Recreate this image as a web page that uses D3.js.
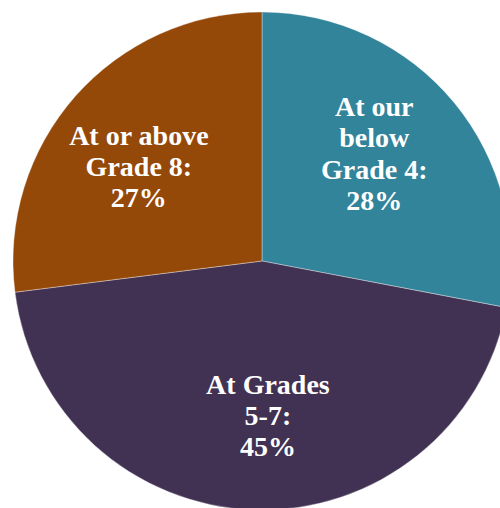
<!DOCTYPE html>
<html>
<head>
<meta charset="utf-8">
<script src="https://cdn.jsdelivr.net/npm/d3@7"></script>
<style>
  body { margin: 0; background: #fff; }
  svg { display: block; }
  .lbl { font-family: "Liberation Serif", "Times New Roman", serif; font-weight: bold; font-size: 28px; fill: #fff; }
</style>
</head>
<body>
<script>
// chart data
var categories = ["At our below Grade 4:", "At Grades 5-7:", "At or above Grade 8:"];
var labelLines = [["At our", "below", "Grade 4:"], ["At Grades", "5-7:"], ["At or above", "Grade 8:"]];
var values = [28, 45, 27];
var colors = ["#32849b", "#413152", "#954909"];

var svg = d3.select('body').append('svg')
  .attr('width', 500)
  .attr('height', 508);

var cx = 262, cy = 261, radius = 249;

var g = svg.append('g').attr('transform', 'translate(' + cx + ',' + cy + ')');

var pie = d3.pie().sort(null).value(function (d) { return d; });
var arcs = pie(values);

var arc = d3.arc().innerRadius(0).outerRadius(radius);
var labelArc = d3.arc().innerRadius(155).outerRadius(155);
var rot = 4 * Math.PI / 180; // labels sit a little counter-clockwise of the slice middle

g.selectAll('path.slice')
  .data(arcs)
  .enter().append('path')
  .attr('class', 'slice')
  .attr('d', arc)
  .style('fill', function (d, i) { return colors[i]; })
  .style('stroke', '#ffffff')
  .style('stroke-width', 0.6)
  .style('stroke-opacity', 0.6);

var lineH = 31.3;
var labels = g.selectAll('text.lbl')
  .data(arcs)
  .enter().append('text')
  .attr('class', 'lbl')
  .attr('text-anchor', 'middle')
  .attr('transform', function (d) {
    var c = labelArc.centroid({ startAngle: d.startAngle - rot, endAngle: d.endAngle - rot });
    return 'translate(' + c + ')';
  });

labels.each(function (d, i) {
  var lines = labelLines[i].concat([d.value + '%']);
  var t = d3.select(this);
  var y0 = -((lines.length - 1) * lineH) / 2 + 9;
  lines.forEach(function (s, k) {
    t.append('tspan')
      .attr('x', 0)
      .attr('y', y0 + k * lineH)
      .text(s);
  });
});
</script>
</body>
</html>
